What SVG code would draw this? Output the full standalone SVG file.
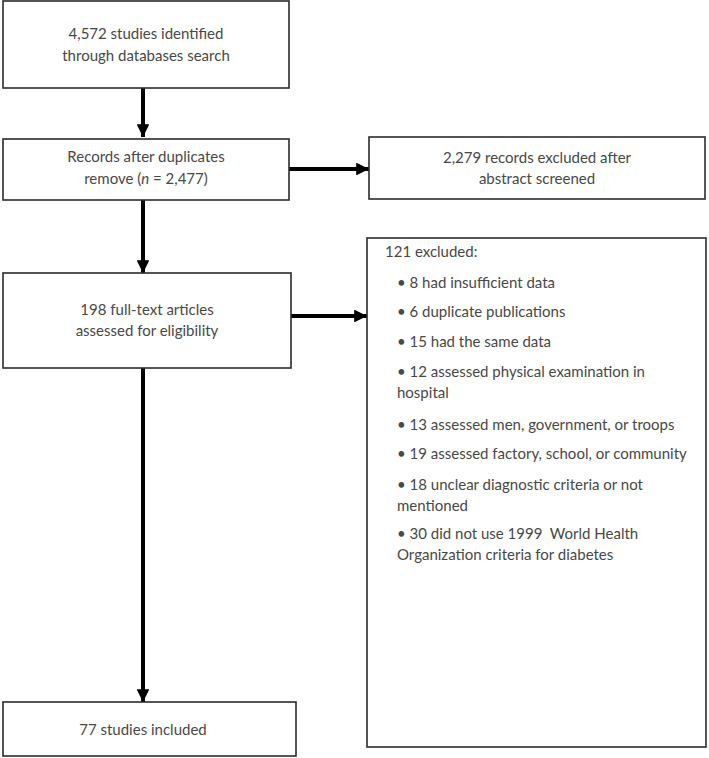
<svg xmlns="http://www.w3.org/2000/svg" width="709" height="758" viewBox="0 0 709 758">
<defs>
<style>
.box{fill:#fff;stroke:#2b2b2b;stroke-width:1.6}
.t{font-family:Lato,"Liberation Sans",sans-serif;font-size:15px;fill:#484848}
.c{text-anchor:middle}
.ln{stroke:#000;stroke-width:4;fill:none}
</style>
<marker id="ah" viewBox="0 0 10 10" refX="10" refY="5" markerWidth="3.2" markerHeight="3.2" markerUnits="strokeWidth" orient="auto">
<path d="M0,0 L10,5 L0,10 z" fill="#000"/>
</marker>
</defs>
<rect width="709" height="758" fill="#fff"/>
<g id="connectors">
<line class="ln" x1="143" y1="88" x2="143" y2="137" marker-end="url(#ah)"/>
<line class="ln" x1="289" y1="169" x2="369" y2="169" marker-end="url(#ah)"/>
<line class="ln" x1="143" y1="200" x2="143" y2="273" marker-end="url(#ah)"/>
<line class="ln" x1="291" y1="316" x2="367" y2="316" marker-end="url(#ah)"/>
<line class="ln" x1="143" y1="368" x2="143" y2="702" marker-end="url(#ah)"/>
</g>
<g id="n1">
<rect class="box" x="3" y="1" width="286" height="87"/>
<text class="t c" x="146" y="39">4,572 studies identified</text>
<text class="t c" x="146" y="61">through databases search</text>
</g>
<g id="n2">
<rect class="box" x="3" y="139" width="286" height="61"/>
<text class="t c" x="146" y="162">Records after duplicates</text>
<text class="t c" x="146" y="184">remove (<tspan font-style="italic">n</tspan> = 2,477)</text>
</g>
<g id="n3">
<rect class="box" x="369" y="137" width="336" height="62"/>
<text class="t c" x="537" y="163">2,279 records excluded after</text>
<text class="t c" x="537" y="184">abstract screened</text>
</g>
<g id="n4">
<rect class="box" x="3" y="273" width="288" height="95"/>
<text class="t c" x="147" y="315">198 full-text articles</text>
<text class="t c" x="147" y="336">assessed for eligibility</text>
</g>
<g id="n5">
<rect class="box" x="367" y="238" width="339" height="509"/>
<text class="t" x="385" y="257">121 excluded:</text>
<text class="t" x="397" y="288">• 8 had insufficient data</text>
<text class="t" x="397" y="317">• 6 duplicate publications</text>
<text class="t" x="397" y="347">• 15 had the same data</text>
<text class="t" x="397" y="377">• 12 assessed physical examination in</text>
<text class="t" x="397" y="398">hospital</text>
<text class="t" x="397" y="430">• 13 assessed men, government, or troops</text>
<text class="t" x="397" y="459">• 19 assessed factory, school, or community</text>
<text class="t" x="397" y="490">• 18 unclear diagnostic criteria or not</text>
<text class="t" x="397" y="511">mentioned</text>
<text class="t" x="397" y="539">• 30 did not use 1999&#160; World Health</text>
<text class="t" x="397" y="560">Organization criteria for diabetes</text>
</g>
<g id="n6">
<rect class="box" x="3" y="702" width="293" height="54"/>
<text class="t c" x="143" y="735">77 studies included</text>
</g>
</svg>
